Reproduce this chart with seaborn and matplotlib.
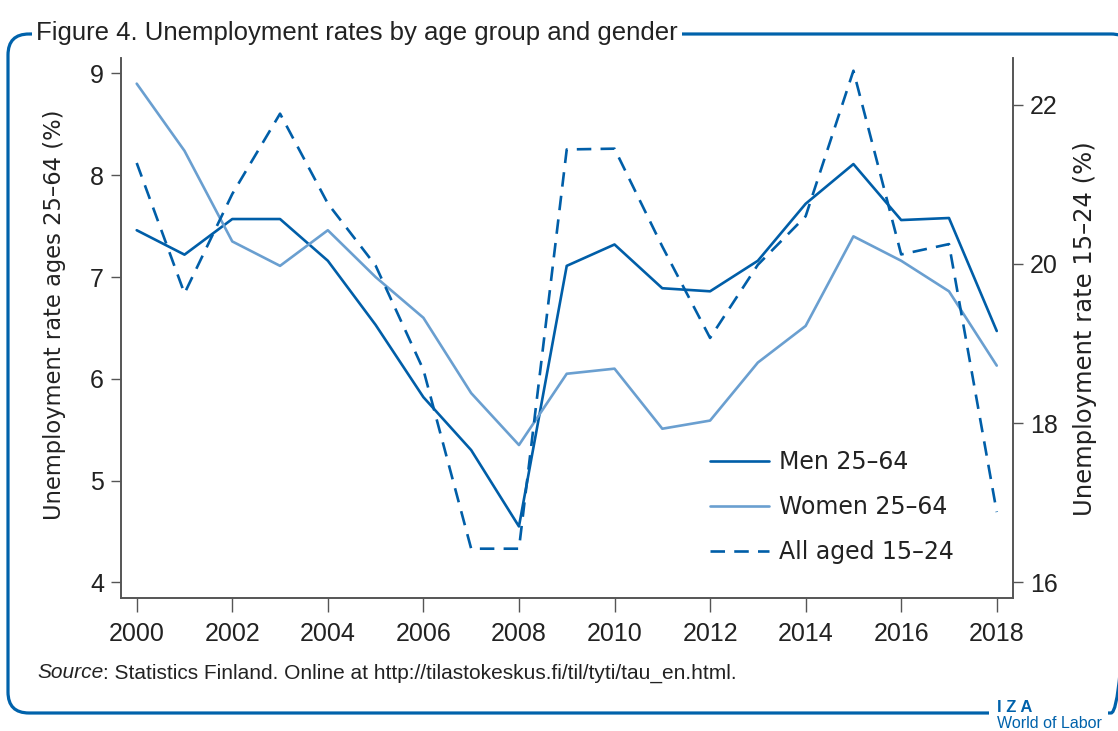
import matplotlib
matplotlib.use("Agg")
import matplotlib.pyplot as plt
from matplotlib import font_manager
from matplotlib.patches import FancyBboxPatch, Rectangle
from matplotlib.lines import Line2D
from matplotlib.transforms import Affine2D
import seaborn as sns
import pandas as pd

years = list(range(2000, 2019))
men_25_64 = [7.46, 7.22, 7.57, 7.57, 7.16, 6.53, 5.82, 5.30, 4.55,
             7.11, 7.32, 6.89, 6.86, 7.16, 7.72, 8.11, 7.56, 7.58, 6.47]
women_25_64 = [8.90, 8.24, 7.35, 7.11, 7.46, 7.00, 6.60, 5.86, 5.35,
               6.05, 6.10, 5.51, 5.59, 6.16, 6.52, 7.40, 7.16, 6.86, 6.13]
all_15_24 = [21.27, 19.63, 20.88, 21.89, 20.76, 19.98, 18.67, 16.42, 16.42,
             21.44, 21.45, 20.22, 19.07, 19.99, 20.60, 22.43, 20.12, 20.25, 16.88]

series_labels = ["Men 25\u201364", "Women 25\u201364", "All aged 15\u201324"]
left_label = "Unemployment rate ages 25\u201364 (%)"
right_label = "Unemployment rate 15\u201324 (%)"
title_text = "Figure 4. Unemployment rates by age group and gender"
source_text = ": Statistics Finland. Online at http://tilastokeskus.fi/til/tyti/tau_en.html."

DARK = "#005ea8"
LIGHT = "#6a9fd0"
FRAME = "#0062ab"
AXIS_GREY = "#555555"
TEXT = "#222222"

sns.set_theme(style="white")
installed = {f.name for f in font_manager.fontManager.ttflist}
NARROW = "Liberation Sans Narrow" if "Liberation Sans Narrow" in installed else "Liberation Sans"
BODY = "Liberation Sans"
WIDE = "DejaVu Sans"
plt.rcParams["font.family"] = [BODY, "DejaVu Sans"]

W, H = 1118, 731
fig = plt.figure(figsize=(W / 100, H / 100), dpi=100)
# pixel coordinates measured from the top-left corner
px = Affine2D().scale(1 / W, -1 / H).translate(0, 1) + fig.transFigure


def fx(x):
    return x / W


def fy(y):
    return 1 - y / H


ax = fig.add_axes([fx(120.7), fy(598), fx(1013) - fx(120.7), fy(58) - fy(598)])
ax2 = ax.twinx()

df = pd.DataFrame({"year": years, "men": men_25_64, "women": women_25_64, "youth": all_15_24})

sns.lineplot(data=df, x="year", y="men", ax=ax, color=DARK, linewidth=1.9, legend=False)
sns.lineplot(data=df, x="year", y="women", ax=ax, color=LIGHT, linewidth=1.9, legend=False)
sns.lineplot(data=df, x="year", y="youth", ax=ax2, color=DARK, linewidth=1.9, legend=False)
ax2.lines[0].set_dashes((5.5, 3.5))

ax.set_xlim(1999.665, 2018.34)
ax.set_ylim(3.847, 9.152)
ax2.set_ylim(15.80, 22.59)

ax.set_xticks(range(2000, 2019, 2))
ax.set_yticks(range(4, 10))
ax2.set_yticks(range(16, 23, 2))

for a in (ax, ax2):
    a.grid(False)
    a.spines["top"].set_visible(False)
    for s in ("left", "right", "bottom"):
        a.spines[s].set_color(AXIS_GREY)
        a.spines[s].set_linewidth(1.2)
    a.set_xlabel("")

tick_font = 18
ax.tick_params(axis="x", direction="out", length=10, width=1, color=AXIS_GREY,
               labelsize=tick_font, labelcolor=TEXT, pad=7, bottom=True)
ax.tick_params(axis="y", direction="out", length=7, width=1, color=AXIS_GREY,
               labelsize=tick_font, labelcolor=TEXT, pad=5, left=True)
ax2.tick_params(axis="y", direction="out", length=7, width=1, color=AXIS_GREY,
                labelsize=tick_font, labelcolor=TEXT, pad=5, right=True)

ax.set_ylabel(left_label, fontsize=16.3, family=WIDE, color=TEXT)
ax2.set_ylabel(right_label, fontsize=17.5, family=WIDE, color=TEXT)
ax.yaxis.set_label_coords(-0.0617, 0.524)
ax2.yaxis.set_label_coords(1.0672, 0.499)

handles = [Line2D([], [], color=DARK, linewidth=1.9),
           Line2D([], [], color=LIGHT, linewidth=1.9),
           Line2D([], [], color=DARK, linewidth=1.9, dashes=(5.5, 3.5))]
fig.legend(handles, series_labels, loc="upper left", bbox_to_anchor=(fx(710), fy(450)),
           frameon=False, prop={"family": WIDE, "size": 17}, handlelength=2.5,
           handletextpad=0.42, labelspacing=0.89, borderpad=0, borderaxespad=0,
           labelcolor=TEXT)

# rounded frame around the whole figure
frame = FancyBboxPatch((8, 34), 1132 - 8, 713 - 34,
                       boxstyle="round,pad=0,rounding_size=21",
                       transform=px, facecolor="none",
                       edgecolor=FRAME, linewidth=2.3, zorder=0)
fig.patches.append(frame)

fig.text(fx(36), fy(33), title_text, fontsize=18.5, family=[NARROW, "DejaVu Sans"],
         color=TEXT, va="center", ha="left",
         bbox=dict(facecolor="white", edgecolor="none", pad=3))

src = fig.text(fx(37), fy(673), "Source", fontsize=15, family=[NARROW, "DejaVu Sans"],
               style="italic", color=TEXT, va="center", ha="left")
fig.canvas.draw()
bb = src.get_window_extent()
fig.text(bb.x1 / W, fy(673), source_text, fontsize=15, family=[NARROW, "DejaVu Sans"],
         color=TEXT, va="center", ha="left")

# gap in the frame for the logo
fig.patches.append(Rectangle((989, 698), 1108 - 989, 33, transform=px,
                             facecolor="white", edgecolor="none", zorder=1))
fig.text(fx(997), fy(707), "I Z A", fontsize=12, weight="bold", family=[BODY, "DejaVu Sans"],
         color=FRAME, va="center", ha="left", zorder=2)
fig.text(fx(997), fy(723), "World of Labor", fontsize=11.5, family=[BODY, "DejaVu Sans"],
         color=FRAME, va="center", ha="left", zorder=2)

fig.savefig("out.png", dpi=100)
